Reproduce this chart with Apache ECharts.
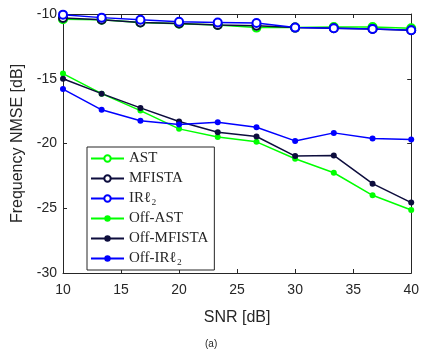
<!DOCTYPE html>
<html>
<head>
<meta charset="utf-8">
<script src="https://cdn.jsdelivr.net/npm/echarts@6/dist/echarts.min.js"></script>
<style>
  html, body { margin: 0; padding: 0; background: #fff; }
  #chart { width: 422px; height: 358px; }
</style>
</head>
<body>
<div id="chart"></div>
<script>
// SNR sweep (dB)
const snr = [10, 13.33, 16.67, 20, 23.33, 26.67, 30, 33.33, 36.67, 40];

// Frequency NMSE (dB) per method
const ast       = [-10.4, -10.45, -10.65, -10.75, -10.85, -11.05, -11.05, -11.0, -11.0, -11.1];
const mfista    = [-10.3, -10.45, -10.65, -10.74, -10.85, -10.9, -11.05, -11.1, -11.15, -11.25];
const irl2      = [-10.05, -10.28, -10.45, -10.6, -10.65, -10.7, -11.05, -11.1, -11.15, -11.25];
const offAst    = [-14.6, -16.15, -17.46, -18.87, -19.49, -19.87, -21.18, -22.26, -24.0, -25.13];
const offMfista = [-15.0, -16.15, -17.25, -18.3, -19.13, -19.46, -20.97, -20.92, -23.1, -24.56];
const offIrl2   = [-15.8, -17.4, -18.25, -18.54, -18.36, -18.74, -19.8, -19.18, -19.62, -19.69];

const xTicks = [10, 15, 20, 25, 30, 35, 40];
const yTicks = [-30, -25, -20, -15, -10];

const names = ['AST', 'MFISTA', 'IRℓ₂', 'Off-AST', 'Off-MFISTA', 'Off-IRℓ₂'];

const GREEN = '#00ff00', NAVY = '#0d0d3d', BLUE = '#0000ff';
const AXIS = '#262626';

function pairs(ys) { return snr.map((x, i) => [x, ys[i]]); }

function curve(name, ys, color, filled) {
  return {
    name: name,
    type: 'line',
    data: pairs(ys),
    symbol: filled ? 'circle' : 'emptyCircle',
    symbolSize: filled ? 6 : 8,
    lineStyle: { color: color, width: 1.5 },
    itemStyle: { color: color, borderColor: color, borderWidth: filled ? 0 : 1.5 },
    emphasis: { disabled: true },
    animation: false
  };
}

const tickLabel = { color: AXIS, fontFamily: 'Liberation Sans', fontSize: 14 };

const chart = echarts.init(document.getElementById('chart'), null, { renderer: 'canvas' });
chart.setOption({
  backgroundColor: '#fff',
  animation: false,
  grid: { left: 63, right: 9, top: 14, bottom: 85 },
  xAxis: [{
    type: 'value', min: xTicks[0], max: xTicks[xTicks.length - 1], interval: 5,
    name: 'SNR [dB]', nameLocation: 'middle', nameGap: 37,
    nameTextStyle: { color: AXIS, fontFamily: 'Liberation Sans', fontSize: 16 },
    axisLine: { lineStyle: { color: AXIS, width: 1 } },
    axisTick: { inside: true, length: 4, lineStyle: { color: AXIS } },
    axisLabel: Object.assign({ margin: 10 }, tickLabel),
    splitLine: { show: false }
  }, {
    type: 'value', position: 'top', min: xTicks[0], max: xTicks[xTicks.length - 1], interval: 5,
    axisLine: { show: true, lineStyle: { color: AXIS, width: 1 } },
    axisTick: { inside: true, length: 4, lineStyle: { color: AXIS } },
    axisLabel: { show: false }, splitLine: { show: false }
  }],
  yAxis: [{
    type: 'value', min: yTicks[0], max: yTicks[yTicks.length - 1], interval: 5,
    name: 'Frequency NMSE [dB]', nameLocation: 'middle', nameGap: 37,
    nameTextStyle: { color: AXIS, fontFamily: 'Liberation Sans', fontSize: 16 },
    axisLine: { show: true, lineStyle: { color: AXIS, width: 1 } },
    axisTick: { show: true, inside: true, length: 4, lineStyle: { color: AXIS } },
    axisLabel: Object.assign({ margin: 6 }, tickLabel),
    splitLine: { show: false }
  }, {
    type: 'value', position: 'right', min: yTicks[0], max: yTicks[yTicks.length - 1], interval: 5,
    axisLine: { show: true, lineStyle: { color: AXIS, width: 1 } },
    axisTick: { show: true, inside: true, length: 4, lineStyle: { color: AXIS } },
    axisLabel: { show: false }, splitLine: { show: false }
  }],
  legend: {
    data: names,
    orient: 'vertical',
    left: 87, top: 147,
    itemWidth: 33, itemHeight: 8, itemGap: 3,
    padding: [3, 6, 3, 3],
    backgroundColor: '#fff',
    borderColor: AXIS, borderWidth: 1,
    textStyle: { color: AXIS, fontFamily: 'Liberation Serif', fontSize: 15, lineHeight: 17 },
    selectedMode: false
  },
  graphic: [{
    type: 'text', left: 205, top: 339,
    style: { text: '(a)', fill: AXIS, font: '10px "Liberation Sans"' }
  }],
  series: [
    curve(names[0], ast, GREEN, false),
    curve(names[1], mfista, NAVY, false),
    curve(names[2], irl2, BLUE, false),
    curve(names[3], offAst, GREEN, true),
    curve(names[4], offMfista, NAVY, true),
    curve(names[5], offIrl2, BLUE, true)
  ]
});
</script>
</body>
</html>
